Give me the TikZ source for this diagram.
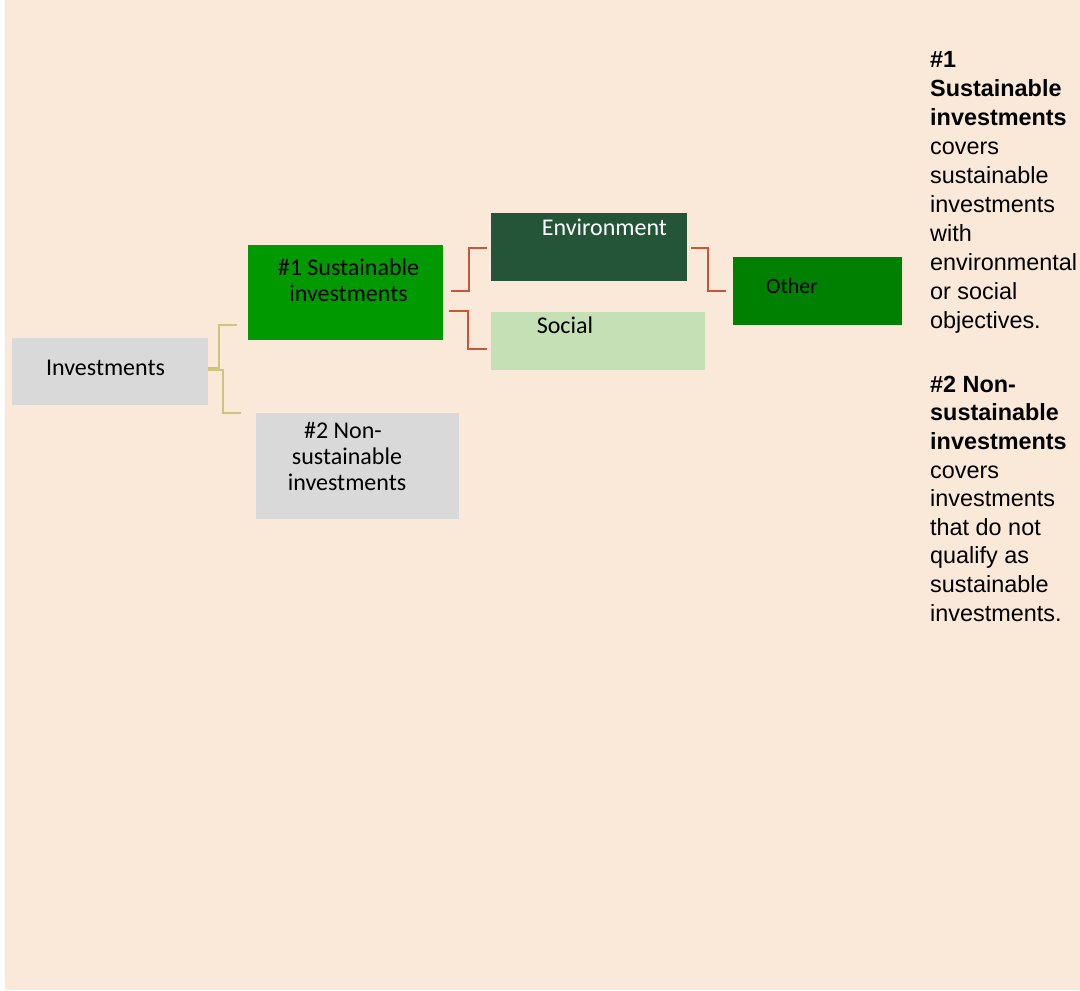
\documentclass[tikz,border=0pt]{standalone}
\usepackage{fontspec}
\setmainfont{Carlito}
\newfontfamily\notefont{Liberation Sans}
\usetikzlibrary{positioning}

\definecolor{peach}{HTML}{FAE8D8}
\definecolor{greybox}{HTML}{D9D9D9}
\definecolor{susgreen}{HTML}{009900}
\definecolor{envgreen}{HTML}{245539}
\definecolor{socgreen}{HTML}{C5E0B4}
\definecolor{othgreen}{HTML}{008000}
\definecolor{tanc}{HTML}{CFC47C}
\definecolor{redc}{HTML}{C9553A}

\begin{document}
\begin{tikzpicture}[x=1pt,y=-1pt,
	box/.style={inner sep=0pt, outer sep=0pt},
	lbl/.style={anchor=base, align=center, inner sep=0pt, font=\fontsize{24}{26}\selectfont},
	note/.style={anchor=base west, align=left, inner sep=0pt, font=\notefont\fontsize{23.4}{29}\selectfont},
	tanline/.style={draw=tanc, line width=1.6pt},
	redline/.style={draw=redc, line width=2.3pt}]
\useasboundingbox (0,0) rectangle (1080,991);
\fill[peach] (5,0) rectangle (1080,990);

%boxes
\node[box, fill=greybox, minimum width=196pt, minimum height=67pt](Inv) at (110,371.5){};
\node[box, fill=susgreen, minimum width=195pt, minimum height=95pt](Sust) at (345.5,292.5){};
\node[box, fill=greybox, minimum width=203pt, minimum height=106pt](NonSust) at (357.5,466){};
\node[box, fill=envgreen, minimum width=196pt, minimum height=68pt](Env) at (589,247){};
\node[box, fill=socgreen, minimum width=214pt, minimum height=58pt](Soc) at (598,341){};
\node[box, fill=othgreen, minimum width=169pt, minimum height=68pt](Oth) at (817.5,291){};

%box texts (base = last line)
\node[lbl](Invtext) at (105.5,375){Investments};
\node[lbl](Susttext) at (348.5,301){\#1 Sustainable\\investments};
\node[lbl](NonSusttext) at (347,490){\#2 Non-\rlap{\hspace{8pt}}\kern8pt\\sustainable\\investments};
\node[lbl, text=white](Envtext) at (604.5,235.5){Environment};
\node[lbl](Soctext) at (565,333){Social};
\node[lbl, font=\fontsize{21.8}{24}\selectfont](Othtext) at (792,293){Other};

%connector ends
\coordinate (InvA) at (208,368);
\coordinate (InvB) at (208,370);
\coordinate (SustIn) at (237,325);
\coordinate (NonSustIn) at (241,413);
\coordinate (SustA) at (451,291);
\coordinate (SustB) at (449,311);
\coordinate (EnvIn) at (487,248);
\coordinate (SocIn) at (487,349);
\coordinate (EnvOut) at (691,248);
\coordinate (OthIn) at (726,291);

\draw[tanline] (InvA) -| (219,325) -- (SustIn);
\draw[tanline] (InvB) -| (223,413) -- (NonSustIn);
\draw[redline] (SustA) -| (469,248) -- (EnvIn);
\draw[redline] (SustB) -| (468,349) -- (SocIn);
\draw[redline] (EnvOut) -| (708,291) -- (OthIn);

%notes on the right
\node[note](Note1) at (930,328){\textbf{\#1}\\\textbf{Sustainable}\\\textbf{investments}\\covers\\sustainable\\investments\\with\\environmental\\or social\\objectives.};
\node[note, font=\notefont\fontsize{23.4}{28.6}\selectfont](Note2) at (930,621){\textbf{\#2 Non-}\\\textbf{sustainable}\\\textbf{investments}\\covers\\investments\\that do not\\qualify as\\sustainable\\investments.};

\end{tikzpicture}
\end{document}
